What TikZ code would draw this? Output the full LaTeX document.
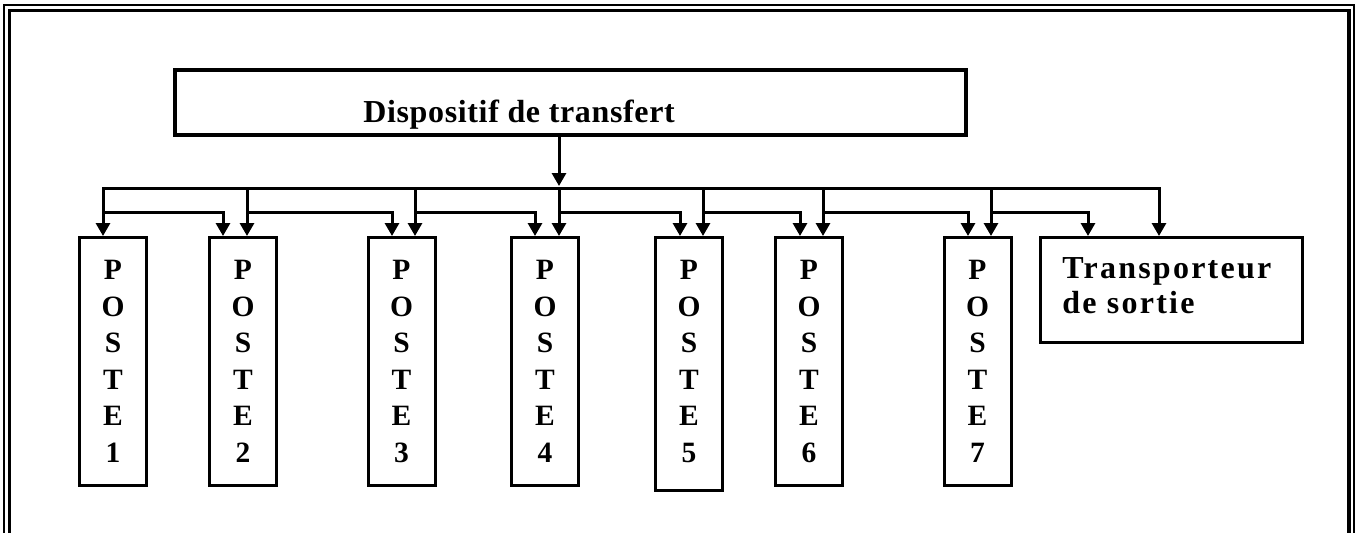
\documentclass[tikz,border=0pt]{standalone}
\usepackage{fontspec}
\setmainfont{Liberation Serif}
\newfontfamily\wide[LetterSpace=7]{Liberation Serif}
\newfontfamily\narrow[LetterSpace=2]{Liberation Serif}
\usetikzlibrary{arrows.meta,calc}
\tikzset{
  >={Triangle[length=6.5pt,width=7pt]},
  ln/.style={line width=1.5pt},
  arr/.style={ln,->},
  poste/.style={draw,line width=1.5pt,minimum width=33.5pt,minimum height=124pt,inner sep=0pt,align=center,font=\fontsize{14.75}{18.25}\selectfont\bfseries},
  bigbox/.style={draw,line width=1.75pt,inner sep=0pt},
  lbl/.style={font=\wide\fontsize{16}{17.5}\selectfont\bfseries,inner sep=0pt,align=left},
  nlbl/.style={lbl,font=\narrow\fontsize{16}{17.5}\selectfont\bfseries},
}

\begin{document}
\begin{tikzpicture}[x=0.5pt,y=-0.5pt]
  \useasboundingbox (0,0) rectangle (1356,532);
  % double page border, open at the bottom
  \draw[line width=0.9pt] (4.3,540) -- (4.3,5) -- (1353.7,5) -- (1353.7,540);
  \draw[line width=1.6pt] (9.5,540) -- (9.5,10.5) -- (1349,10.5) -- (1349,540);
  \node[bigbox,minimum width=395.5pt,minimum height=32.5pt] (disp) at (570.5,102.5) {};
  \node[nlbl,anchor=base west] (disptxt) at (363,122) {Dispositif de transfert};
  \foreach \i/\x in {1/113,2/243,3/401.5,4/545,6/809,7/977.5} \node[poste] (p\i) at (\x,361.5) {P\\O\\S\\T\\E\\\i};
  \node[poste,minimum height=126.5pt,text depth=2.5pt] (p5) at (689,364) {P\\O\\S\\T\\E\\5};
  \node[bigbox,line width=1.5pt,minimum width=131pt,minimum height=52.5pt] (tr) at (1171.5,290) {};
  \node[lbl,anchor=north west] (trtxt) at (1062,257) {Transporteur\\de sortie};
  \draw[arr] (disp.south -| 559,0) -- (559,186);
  \draw[arr] (559,188) -| (p1.north -| 103,0);
  \draw[arr] (559,188) -| (tr.north -| 1159,0);
  \foreach \x/\b in {247/p2,415/p3,559/p4,703/p5,823/p6,991/p7} \draw[arr] (\x,188) -- (\b.north -| \x,0);
  \foreach \x/\lx/\b in {103/223/p2,247/392/p3,415/535/p4,559/680/p5,703/800/p6,823/968/p7,991/1088/tr} \draw[arr] (\x,212) -| (\b.north -| \lx,0);
\end{tikzpicture}
\end{document}
